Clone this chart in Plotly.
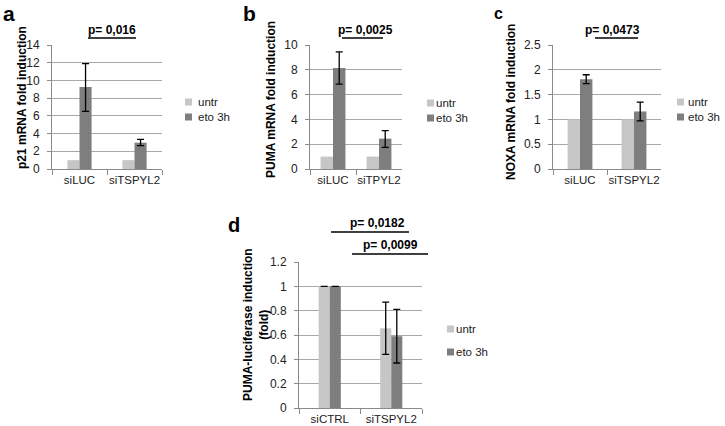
import plotly.graph_objects as go

W, H = 725, 426

# ---------------- data ----------------
series_names = ["untr", "eto 3h"]

a_cats = ["siLUC", "siTSPYL2"]
a_untr = [1, 1]
a_eto = [9.25, 2.97]
a_eto_up = [2.65, 0.38]
a_eto_dn = [2.75, 0.34]

b_cats = ["siLUC", "siTPYL2"]
b_untr = [1, 1]
b_eto = [8.15, 2.45]
b_eto_up = [1.3, 0.65]
b_eto_dn = [1.3, 0.7]

c_cats = ["siLUC", "siTSPYL2"]
c_untr = [1, 1]
c_eto = [1.81, 1.16]
c_eto_up = [0.09, 0.19]
c_eto_dn = [0.09, 0.19]

d_cats = ["siCTRL", "siTSPYL2"]
d_untr = [1, 0.655]
d_eto = [1, 0.59]
d_untr_up = [float("nan"), 0.215]
d_untr_dn = [float("nan"), 0.215]
d_eto_up = [float("nan"), 0.22]
d_eto_dn = [float("nan"), 0.22]

C_UNTR = "#c6c6c6"
C_ETO = "#7e7e7e"
FONT = "Liberation Sans, Arial, sans-serif"


def px(x):
    return x / W


def py(y):
    return 1 - y / H


fig = go.Figure()

panels = [
    # cats, untr, eto, errs, x px domain, y px (zero, top), ymax, dtick, bargap, legend (marker x0, text x, y1, y2)
    (a_cats, a_untr, a_eto, (None, None, a_eto_up, a_eto_dn), (52, 162), (169, 45), 14, 2, 0.56, (185, 196, 102, 117)),
    (b_cats, b_untr, b_eto, (None, None, b_eto_up, b_eto_dn), (310, 402), (169, 45), 10, 2, 0.46, (427, 434, 103, 118)),
    (c_cats, c_untr, c_eto, (None, None, c_eto_up, c_eto_dn), (553, 661), (169, 45), 2.5, 0.5, 0.54, (677, 686, 102, 117)),
    (d_cats, d_untr, d_eto, (d_untr_up, d_untr_dn, d_eto_up, d_eto_dn), (299, 422), (408, 262), 1.2, 0.2, 0.64, (447, 454, 329, 352)),
]

annotations = []
shapes = []
layout_axes = {}
for i, (cats, untr, eto, errs, xd, yd, ymax, dtick, gap, leg) in enumerate(panels):
    n = i + 1
    xa = "x" if n == 1 else f"x{n}"
    ya = "y" if n == 1 else f"y{n}"
    uu, ud, eu, ed = errs
    w = (1 - gap) / 2
    for vals, color, nm, up, dn, off in ((untr, C_UNTR, series_names[0], uu, ud, -w),
                                         (eto, C_ETO, series_names[1], eu, ed, 0)):
        err = None
        if up is not None:
            err = dict(type="data", symmetric=False, array=up, arrayminus=dn,
                       color="black", thickness=1.3, width=3.5)
        fig.add_trace(go.Bar(x=cats, y=vals, name=nm, marker_color=color,
                             marker_line_width=0, error_y=err, width=w, offset=off,
                             xaxis=xa, yaxis=ya, showlegend=False))
    layout_axes[f"xaxis{'' if n == 1 else n}"] = dict(
        domain=[px(xd[0]), px(xd[1])], anchor=ya, type="category", automargin=False,
        showline=True, linecolor="#8a8a8a", linewidth=1, tickangle=0,
        ticks="outside", tickson="boundaries", ticklen=5, tickcolor="#8a8a8a",
        tickfont=dict(family=FONT, size=11.5, color="#222"), showgrid=False)
    layout_axes[f"yaxis{'' if n == 1 else n}"] = dict(
        domain=[py(yd[0]), py(yd[1])], anchor=xa, range=[0, ymax * 1.0001], automargin=False,
        dtick=dtick, tick0=0, showline=True, linecolor="#8a8a8a", linewidth=1,
        ticks="outside", ticklen=4, tickcolor="#8a8a8a", ticklabelstandoff=5,
        showgrid=True, gridcolor="#a8a8a8", gridwidth=1, zeroline=False,
        tickfont=dict(family=FONT, size=12, color="#222"))
    # legend swatches + labels
    mx, tx, y1, y2 = leg
    for nm, color, yy in ((series_names[0], C_UNTR, y1), (series_names[1], C_ETO, y2)):
        shapes.append(dict(type="rect", xref="paper", yref="paper",
                           x0=px(mx), x1=px(mx + 7), y0=py(yy - 3.5), y1=py(yy + 3.5),
                           fillcolor=color, line=dict(width=0)))
        annotations.append(dict(text=nm, x=px(tx), y=py(yy), xref="paper", yref="paper",
                                xanchor="left", yanchor="middle", showarrow=False,
                                font=dict(family=FONT, size=11.5, color="#222")))

fig.update_layout(**layout_axes)

# panel letters (top-anchored so they stay inside the page)
for letter, x, y, size in (("a", 1, 0, 21), ("b", 241, 0, 21), ("c", 492, 3, 16), ("d", 226, 212, 20)):
    annotations.append(dict(text=f"<b>{letter}</b>", x=px(x), y=py(y), xref="paper", yref="paper",
                            xanchor="left", yanchor="top", showarrow=False,
                            font=dict(family=FONT, size=size, color="black")))

# y titles
for txt, x, y in (("p21 mRNA fold induction", 22, 98), ("PUMA mRNA fold induction", 271, 100),
                  ("NOXA mRNA fold induction", 511, 102), ("PUMA-luciferase induction<br>(fold)", 256, 324)):
    annotations.append(dict(text=f"<b>{txt}</b>", x=px(x), y=py(y), xref="paper", yref="paper",
                            xanchor="center", yanchor="middle", showarrow=False, textangle=-90,
                            font=dict(family=FONT, size=12, color="black")))

# p-values
for txt, tx, ty, x0, x1, ly in (("p= 0,016", 112, 30, 88, 136, 38),
                                ("p= 0,0025", 365, 30, 342, 383, 38),
                                ("p= 0,0473", 612, 30, 595, 638, 38),
                                ("p= 0,0182", 377, 223, 331, 409, 232),
                                ("p= 0,0099", 390, 245, 352, 428, 254)):
    annotations.append(dict(text=f"<b>{txt}</b>", x=px(tx), y=py(ty), xref="paper", yref="paper",
                            xanchor="center", yanchor="middle", showarrow=False,
                            font=dict(family=FONT, size=12, color="black")))
    shapes.append(dict(type="line", xref="paper", yref="paper", x0=px(x0), x1=px(x1),
                       y0=py(ly), y1=py(ly), line=dict(color="black", width=1.5)))

fig.update_layout(width=W, height=H, margin=dict(l=0, r=0, t=0, b=0, autoexpand=False),
                  autosize=False,
                  paper_bgcolor="white", plot_bgcolor="white", barmode="overlay",
                  annotations=annotations, shapes=shapes, showlegend=False,
                  font=dict(family=FONT))

fig.write_html("out.html", config={"displayModeBar": False},
               post_script="document.body.style.margin='0';document.body.style.overflow='hidden';")
